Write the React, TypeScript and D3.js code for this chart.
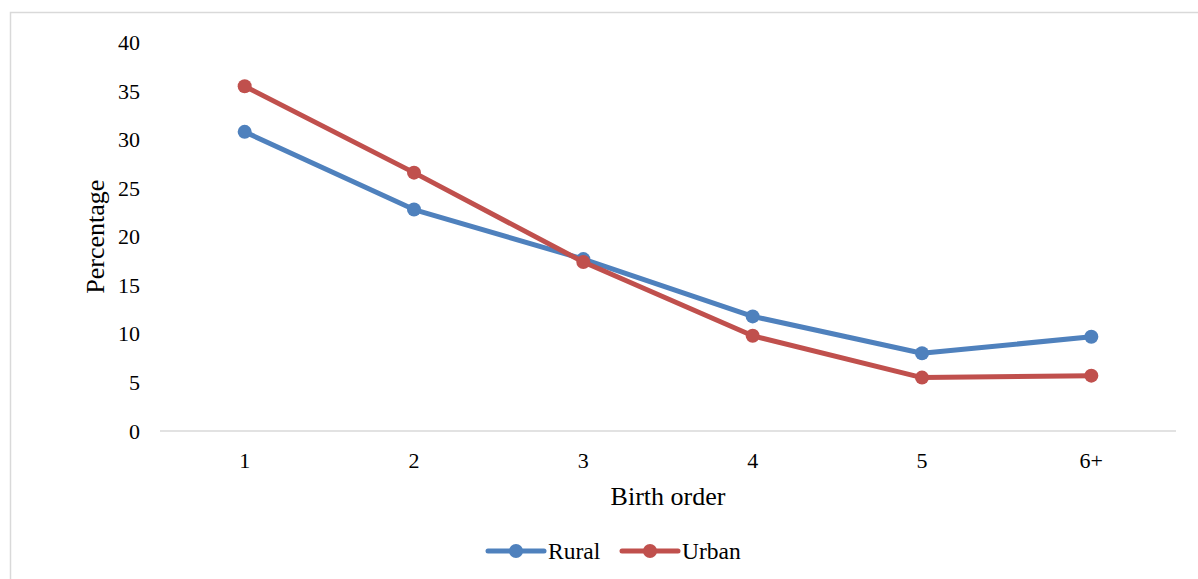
import React from "react";
import * as d3 from "d3";

const categories = ["1", "2", "3", "4", "5", "6+"];
const rural = [30.8, 22.8, 17.7, 11.8, 8.0, 9.7];
const urban = [35.5, 26.6, 17.4, 9.8, 5.5, 5.7];
const yTicks = [0, 5, 10, 15, 20, 25, 30, 35, 40];

const W = 1198;
const H = 579;
const margin = { left: 160, right: 22, top: 42.5, bottom: 148 };
const FONT = "'Liberation Serif', 'Times New Roman', serif";

const seriesList = [
  { name: "Rural", values: rural, color: "#4F81BD" },
  { name: "Urban", values: urban, color: "#C0504D" },
];

export default function App() {
  const x = d3
    .scaleBand<string>()
    .domain(categories)
    .range([margin.left, W - margin.right]);
  const y = d3
    .scaleLinear()
    .domain([0, 40])
    .range([H - margin.bottom, margin.top]);
  const cx = (c: string) => (x(c) ?? 0) + x.bandwidth() / 2;

  const line = d3
    .line<number>()
    .x((_, i) => cx(categories[i]))
    .y((v) => y(v));

  const plotCenter = (margin.left + W - margin.right) / 2;
  const legendItems = [
    { ...seriesList[0], x0: 488 },
    { ...seriesList[1], x0: 622 },
  ];

  return (
    <svg
      width={W}
      height={H}
      style={{ position: "absolute", left: 0, top: 0, background: "#fff" }}
      fontFamily={FONT}
    >
      <rect x={10.5} y={12.5} width={W + 20} height={H + 20} fill="#fff" stroke="#d9d9d9" strokeWidth={1.5} />

      {/* baseline */}
      <line
        x1={margin.left}
        x2={W - margin.right}
        y1={y(0)}
        y2={y(0)}
        stroke="#d9d9d9"
        strokeWidth={1.5}
      />

      {/* y tick labels */}
      {yTicks.map((t) => (
        <text
          key={t}
          x={140}
          y={y(t)}
          textAnchor="end"
          dominantBaseline="central"
          fontSize={22}
          fill="#000"
        >
          {t}
        </text>
      ))}

      {/* x tick labels */}
      {categories.map((c) => (
        <text
          key={c}
          x={cx(c)}
          y={460}
          textAnchor="middle"
          dominantBaseline="central"
          fontSize={22}
          fill="#000"
        >
          {c}
        </text>
      ))}

      <text
        transform={`translate(95, ${y(20)}) rotate(-90)`}
        textAnchor="middle"
        dominantBaseline="central"
        fontSize={26}
      >
        Percentage
      </text>
      <text x={plotCenter} y={496} textAnchor="middle" dominantBaseline="central" fontSize={26}>
        Birth order
      </text>

      {/* series */}
      {seriesList.map((s) => (
        <g key={s.name}>
          <path
            d={line(s.values) ?? ""}
            fill="none"
            stroke={s.color}
            strokeWidth={5}
            strokeLinejoin="round"
            strokeLinecap="round"
          />
          {s.values.map((v, i) => (
            <circle key={i} cx={cx(categories[i])} cy={y(v)} r={7} fill={s.color} />
          ))}
        </g>
      ))}

      {/* legend */}
      {legendItems.map((s) => (
        <g key={s.name}>
          <line
            x1={s.x0}
            x2={s.x0 + 56}
            y1={551}
            y2={551}
            stroke={s.color}
            strokeWidth={5}
            strokeLinecap="round"
          />
          <circle cx={s.x0 + 28} cy={551} r={7} fill={s.color} />
          <text x={s.x0 + 60} y={551} dominantBaseline="central" fontSize={23.5}>
            {s.name}
          </text>
        </g>
      ))}
    </svg>
  );
}
